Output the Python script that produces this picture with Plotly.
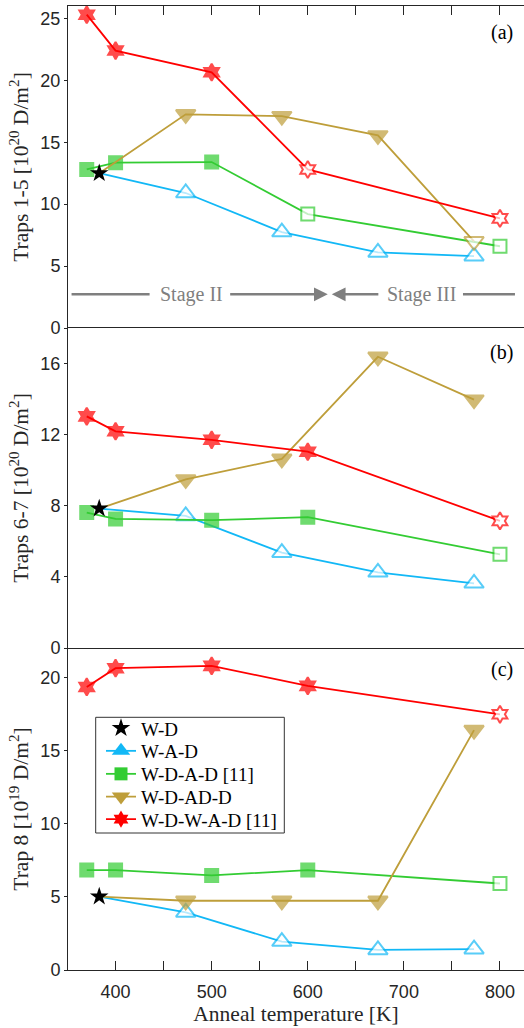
import plotly.graph_objects as go

# ---------------- data ----------------
X_WD = [383]
X_WAD = [383, 473, 573, 673, 773]
X_WDAD = [370, 400, 500, 600, 800]
X_WDADD = [383, 473, 573, 673, 773]
X_WDWAD = [370, 400, 500, 600, 800]

# Panel (a): Traps 1-5 [1e20 D/m2]
A_WD = [12.5]
A_WAD = [12.5, 10.9, 7.75, 6.1, 5.8]
A_WDAD = [12.8, 13.35, 13.4, 9.2, 6.6]
A_WDADD = [12.5, 17.25, 17.1, 15.55, 7.0]
A_WDWAD = [25.3, 22.4, 20.65, 12.8, 8.85]

# Panel (b): Traps 6-7 [1e20 D/m2]
B_WD = [7.84]
B_WAD = [7.84, 7.43, 5.36, 4.26, 3.64]
B_WDAD = [7.62, 7.26, 7.19, 7.36, 5.27]
B_WDADD = [7.84, 9.48, 10.64, 16.38, 13.97]
B_WDWAD = [13.03, 12.19, 11.71, 11.04, 7.15]

# Panel (c): Trap 8 [1e19 D/m2]
C_WD = [5.02]
C_WAD = [5.02, 3.93, 1.94, 1.37, 1.42]
C_WDAD = [6.83, 6.83, 6.46, 6.83, 5.91]
C_WDADD = [5.02, 4.73, 4.73, 4.73, 16.39]
C_WDWAD = [19.34, 20.62, 20.78, 19.41, 17.47]

# open (hollow) markers flags
A_OPEN = {"WAD": [0, 1, 1, 1, 1], "WDAD": [0, 0, 0, 1, 1], "WDADD": [0, 0, 0, 0, 1], "WDWAD": [0, 0, 0, 1, 1]}
B_OPEN = {"WAD": [0, 1, 1, 1, 1], "WDAD": [0, 0, 0, 0, 1], "WDADD": [0, 0, 0, 0, 0], "WDWAD": [0, 0, 0, 0, 1]}
C_OPEN = {"WAD": [0, 1, 1, 1, 1], "WDAD": [0, 0, 0, 0, 1], "WDADD": [0, 0, 0, 0, 0], "WDWAD": [0, 0, 0, 0, 1]}
# first point of W-A-D and W-D-AD-D is the W-D reference (drawn as the star)
HIDDEN_FIRST = {"WAD": True, "WDAD": False, "WDADD": True, "WDWAD": False}

ORDER = ["WD", "WAD", "WDAD", "WDADD", "WDWAD"]
NAMES = {"WD": "W-D", "WAD": "W-A-D", "WDAD": "W-D-A-D [11]", "WDADD": "W-D-AD-D", "WDWAD": "W-D-W-A-D [11]"}
Y_TITLES = ["Traps 1-5 [10<sup>20</sup> D/m<sup>2</sup>]",
            "Traps 6-7 [10<sup>20</sup> D/m<sup>2</sup>]",
            "Trap 8 [10<sup>19</sup> D/m<sup>2</sup>]"]
X_TITLE = "Anneal temperature [K]"
PANEL_LABELS = ["(a)", "(b)", "(c)"]
Y_RANGES = [[0, 26], [0, 18], [0, 22]]
Y_DTICK = [5, 4, 5]
X_RANGE = [350.5, 825]

STAGE_Y = 2.72

# ---------------- style ----------------
COL = {"WD": "black", "WAD": "#12B8F6", "WDAD": "#33CC33", "WDADD": "#BE9E3A", "WDWAD": "#FF0000"}
SYM = {"WD": "star", "WAD": "triangle-up", "WDAD": "square", "WDADD": "triangle-down", "WDWAD": "hexagram"}
SIZE = {"WD": 14, "WAD": 17, "WDAD": 13, "WDADD": 17, "WDWAD": 13}
AX = "#262626"
GRAY = "#7F7F7F"
SERIF = "Liberation Serif"
SANS = "Liberation Sans"

fig = go.Figure()

panels = [
    ("x", "y", {"WD": A_WD, "WAD": A_WAD, "WDAD": A_WDAD, "WDADD": A_WDADD, "WDWAD": A_WDWAD}, A_OPEN),
    ("x2", "y2", {"WD": B_WD, "WAD": B_WAD, "WDAD": B_WDAD, "WDADD": B_WDADD, "WDWAD": B_WDWAD}, B_OPEN),
    ("x3", "y3", {"WD": C_WD, "WAD": C_WAD, "WDAD": C_WDAD, "WDADD": C_WDADD, "WDWAD": C_WDWAD}, C_OPEN),
]
XS = {"WD": X_WD, "WAD": X_WAD, "WDAD": X_WDAD, "WDADD": X_WDADD, "WDWAD": X_WDWAD}

for xr, yr, vals, opens in panels:
    for key in ["WAD", "WDAD", "WDADD", "WDWAD"]:
        n = len(vals[key])
        sizes = [SIZE[key]] * n
        if HIDDEN_FIRST[key]:
            sizes[0] = 0
        fills = ["white" if o else COL[key] for o in opens[key]]
        fig.add_trace(go.Scatter(
            x=XS[key], y=vals[key], xaxis=xr, yaxis=yr, mode="lines+markers",
            line=dict(color=COL[key], width=1.8), showlegend=False,
            marker=dict(symbol=SYM[key], size=sizes, color=fills,
                        line=dict(color=COL[key], width=2))))
    fig.add_trace(go.Scatter(
        x=XS["WD"], y=vals["WD"], xaxis=xr, yaxis=yr, mode="markers", showlegend=False,
        marker=dict(symbol=SYM["WD"], size=SIZE["WD"], color="black", line=dict(width=0))))

# ---------------- layout ----------------
H_TOP, H_BOT = 6, 58
FIG_W, FIG_H = 524, 1028
L_MARGIN = 68
plot_h = FIG_H - H_TOP - H_BOT
plot_w = FIG_W - L_MARGIN
def pf(py):
    return (FIG_H - H_BOT - py) / plot_h
def px(pxx):
    return (pxx - L_MARGIN) / plot_w

# legend entries (filled markers), one small legend per row
LEG_ROWS = [728.3, 751.0, 774.0, 796.7, 819.3]
legends = {}
for idx, key in enumerate(ORDER):
    lname = "legend" if idx == 0 else f"legend{idx+1}"
    fig.add_trace(go.Scatter(
        x=[None], y=[None], xaxis="x3", yaxis="y3", name=NAMES[key], legend=lname,
        mode="markers" if key == "WD" else "lines+markers",
        line=dict(color=COL[key], width=1.8),
        marker=dict(symbol=SYM[key], size=SIZE[key], color=COL[key], line=dict(width=0))))
    legends[lname] = dict(x=px(101), y=pf(LEG_ROWS[idx]), xanchor="left", yanchor="middle",
                          bgcolor="rgba(0,0,0,0)", borderwidth=0,
                          font=dict(family=SERIF, size=19, color="black"))

domains = [[pf(328), 1.0], [pf(648), pf(328)], [0.0, pf(648)]]

common_x = dict(range=X_RANGE, showgrid=False, zeroline=False, linecolor=AX, linewidth=1,
                tickcolor=AX, tick0=0, dtick=100, automargin=False)
common_y = dict(showgrid=False, zeroline=False, showline=True, linecolor=AX, linewidth=1,
                ticks="outside", ticklen=3, tickcolor=AX, mirror=False, automargin=False,
                tickfont=dict(family=SANS, size=18, color=AX))

layout = dict(
    width=FIG_W, height=FIG_H, margin=dict(l=L_MARGIN, r=0, t=H_TOP, b=H_BOT, autoexpand=False),
    paper_bgcolor="white", plot_bgcolor="white",
    xaxis=dict(common_x, anchor="y", side="top", showline=True, ticks="inside", ticklen=9,
               showticklabels=False, minor=dict(dtick=50, ticks="inside", ticklen=9, tickcolor=AX)),
    xaxis2=dict(common_x, anchor="y2", showline=True, mirror=True, ticks="", showticklabels=False),
    xaxis3=dict(common_x, anchor="y3", showline=True, ticks="inside", ticklen=9, ticklabelstandoff=5,
                minor=dict(dtick=50, ticks="inside", ticklen=9, tickcolor=AX),
                tickfont=dict(family=SANS, size=18, color=AX),
                title=dict(text=X_TITLE, font=dict(family=SERIF, size=21.5, color=AX), standoff=2)),
    showlegend=True,
)
layout.update(legends)
for i in range(3):
    yname = "yaxis" if i == 0 else f"yaxis{i+1}"
    xname = "x" if i == 0 else f"x{i+1}"
    layout[yname] = dict(common_y, domain=domains[i], anchor=xname, range=Y_RANGES[i], dtick=Y_DTICK[i],
                         title=dict(text=Y_TITLES[i], font=dict(family=SERIF, size=21.5, color=AX), standoff=5))
    ov = f"yaxis{i+4}"
    base = "y" if i == 0 else f"y{i+1}"
    layout[ov] = dict(overlaying=base, anchor=xname, side="right", range=Y_RANGES[i], dtick=Y_DTICK[i],
                      showgrid=False, zeroline=False, showline=False, ticks="inside", ticklen=10,
                      tickcolor=AX, showticklabels=False, automargin=False)

fig.update_layout(**layout)

# legend frame
fig.add_shape(type="rect", xref="paper", yref="paper", x0=px(95.7), x1=px(284.3),
              y0=pf(833.0), y1=pf(717.3), line=dict(color="#333333", width=1),
              fillcolor="white", layer="above")

# panel labels
offsets = [26.5, 24, 21]
heights = [322, 320, 322]
for i in range(3):
    yref = "y domain" if i == 0 else f"y{i+1} domain"
    xref = "x domain" if i == 0 else f"x{i+1} domain"
    fig.add_annotation(text=PANEL_LABELS[i], xref=xref, yref=yref, x=px(515),
                       y=1 - offsets[i] / heights[i], xanchor="right", yanchor="middle",
                       showarrow=False, font=dict(family=SERIF, size=20, color="black"))

# Stage annotations (panel a)
fig.add_shape(type="line", xref="x", yref="y", x0=354.2, x1=435.4, y0=STAGE_Y, y1=STAGE_Y,
              line=dict(color=GRAY, width=2.5))
fig.add_shape(type="line", xref="x", yref="y", x0=761.5, x1=815.6, y0=STAGE_Y, y1=STAGE_Y,
              line=dict(color=GRAY, width=2.5))
fig.add_annotation(x=620.8, y=STAGE_Y, ax=517.7, ay=STAGE_Y, xref="x", yref="y", axref="x", ayref="y",
                   text="", showarrow=True, arrowhead=2, arrowsize=1.1, arrowwidth=2.5,
                   arrowcolor=GRAY, standoff=0, startstandoff=0)
fig.add_annotation(x=625.0, y=STAGE_Y, ax=675.0, ay=STAGE_Y, xref="x", yref="y", axref="x", ayref="y",
                   text="", showarrow=True, arrowhead=2, arrowsize=1.1, arrowwidth=2.5,
                   arrowcolor=GRAY, standoff=0, startstandoff=0)
fig.add_annotation(x=479.2, y=STAGE_Y, xref="x", yref="y", text="Stage II", showarrow=False,
                   font=dict(family=SERIF, size=20, color=GRAY))
fig.add_annotation(x=718.2, y=STAGE_Y, xref="x", yref="y", text="Stage III", showarrow=False,
                   font=dict(family=SERIF, size=20, color=GRAY))

fig.write_html("out.html", config={"displayModeBar": False},
               post_script="document.body.style.margin='0';document.body.style.overflow='hidden';")
